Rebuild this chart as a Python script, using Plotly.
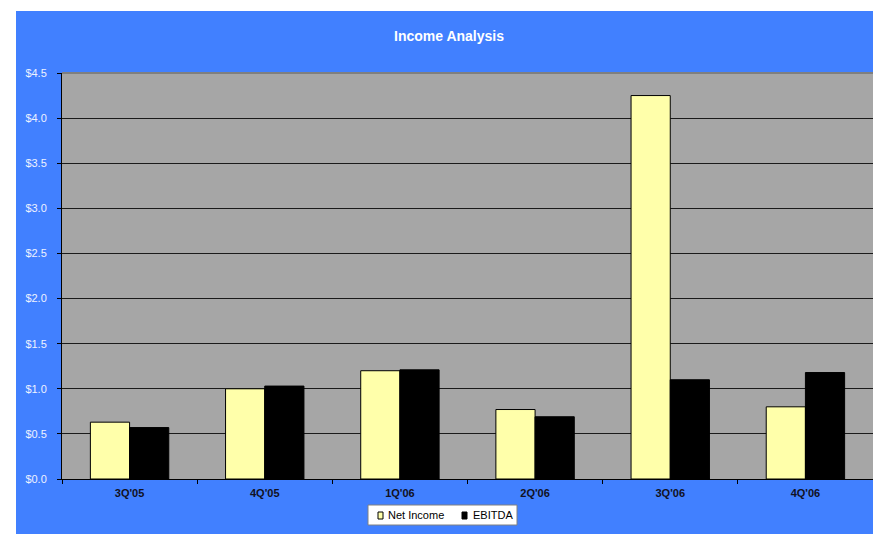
import plotly.graph_objects as go

# Quarterly figures in $ millions
quarters = ["3Q'05", "4Q'05", "1Q'06", "2Q'06", "3Q'06", "4Q'06"]
net_income = [0.63, 1.00, 1.20, 0.77, 4.25, 0.80]
ebitda = [0.57, 1.03, 1.21, 0.69, 1.10, 1.18]
series_names = ["Net Income", "EBITDA"]

BLUE = "#4180FF"
PLOT_GRAY = "#A6A6A6"
YELLOW = "#FFFFAA"
FONT = "Arial, Liberation Sans, sans-serif"

fig = go.Figure()
fig.add_trace(go.Bar(
    name=series_names[0], x=quarters, y=net_income,
    marker=dict(color=YELLOW, line=dict(color="#000000", width=1)),
))
fig.add_trace(go.Bar(
    name=series_names[1], x=quarters, y=ebitda,
    marker=dict(color="#000000", line=dict(color="#000000", width=1)),
))

W, H = 873, 534
ml, mr, mt, mb = 62, 0, 73, 55
pw, ph = W - ml - mr, H - mt - mb

def px_to_paper_x(px):
    return (px - ml) / pw

def px_to_paper_y(py):
    return (H - mb - py) / ph

def px_rect(x0, y0, x1, y1, fill, line_color=None, line_width=0):
    return dict(type="rect", xref="paper", yref="paper",
                x0=px_to_paper_x(x0), x1=px_to_paper_x(x1),
                y0=px_to_paper_y(y1), y1=px_to_paper_y(y0),
                fillcolor=fill,
                line=dict(color=line_color or fill, width=line_width),
                layer="above")

shapes = [
    # white frame strips at the top and left of the canvas
    px_rect(0, 0, W, 11, "#FFFFFF"),
    px_rect(0, 0, 16, H, "#FFFFFF"),
    # gray top border of the plot area
    dict(type="line", xref="paper", yref="paper", x0=0, x1=1, y0=1, y1=1,
         line=dict(color="#7F7F7F", width=2), layer="above"),
    # compact legend box and its keys
    px_rect(368, 505, 517, 525, "#FFFFFF", "#808080", 1),
    px_rect(378, 512, 383, 519, YELLOW, "#000000", 1),
    px_rect(462, 512, 467, 519, "#000000", "#000000", 1),
]

annotations = [
    dict(text=series_names[0], xref="paper", yref="paper",
         x=px_to_paper_x(386), y=px_to_paper_y(515),
         xanchor="left", yanchor="middle", showarrow=False,
         font=dict(family=FONT, size=11, color="#000000")),
    dict(text=series_names[1], xref="paper", yref="paper",
         x=px_to_paper_x(471), y=px_to_paper_y(515),
         xanchor="left", yanchor="middle", showarrow=False,
         font=dict(family=FONT, size=11, color="#000000")),
]

fig.update_layout(
    width=W, height=H,
    margin=dict(l=ml, r=mr, t=mt, b=mb, pad=0),
    paper_bgcolor=BLUE,
    plot_bgcolor=PLOT_GRAY,
    barmode="group",
    bargap=0.42,
    bargroupgap=0,
    font=dict(family=FONT, color="#000000"),
    title=dict(
        text="Income Analysis",
        x=(449 / W), xanchor="center",
        y=1 - 36 / H, yanchor="middle",
        font=dict(family=FONT, size=14, color="#FFFFFF", weight="bold"),
    ),
    showlegend=False,
    xaxis=dict(
        type="category",
        range=[-0.5, 5.5],
        showline=True, linecolor="#000000", linewidth=1,
        ticks="outside", ticklen=4, tickcolor="#000000",
        tickson="boundaries",
        showgrid=False,
        ticklabelstandoff=4,
        tickfont=dict(family=FONT, size=11, color="#111122", weight="bold"),
        fixedrange=True,
    ),
    yaxis=dict(
        range=[0, 4.5],
        dtick=0.5,
        tickformat="$.1f",
        showline=True, linecolor="#000000", linewidth=1,
        ticks="outside", ticklen=4, tickcolor="#000000",
        showgrid=True, gridcolor="#1A1A1A", gridwidth=1,
        zeroline=False,
        ticklabelstandoff=8,
        tickfont=dict(family=FONT, size=11, color="#EEF2FF"),
        fixedrange=True,
    ),
    shapes=shapes,
    annotations=annotations,
)

fig.write_html("out.html")
